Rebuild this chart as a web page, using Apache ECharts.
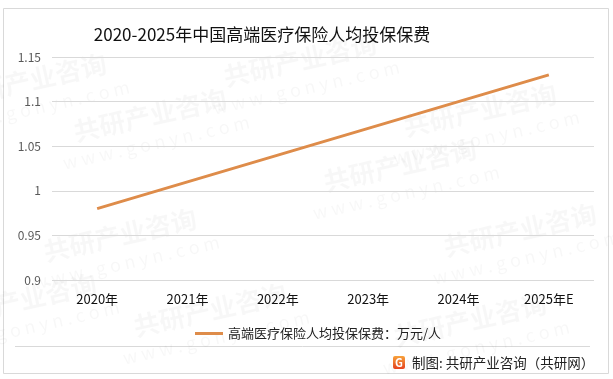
<!DOCTYPE html>
<html><head><meta charset="utf-8">
<script src="https://cdn.jsdelivr.net/npm/echarts@6/dist/echarts.min.js"></script>
<style>html,body{margin:0;padding:0;background:#fff}#c{width:613px;height:379px}</style>
</head><body><div id="c"></div>
<script>
var titleText = '2020-2025年中国高端医疗保险人均投保保费';
var categories = ['2020年','2021年','2022年','2023年','2024年','2025年E'];
var seriesName = '高端医疗保险人均投保保费：万元/人';
var values = [0.98, 1.01, 1.04, 1.07, 1.10, 1.13];
var yTicks = [0.9, 0.95, 1, 1.05, 1.1, 1.15];
var sourceText = '制图: 共研产业咨询（共研网）';

var font = '"Noto Sans CJK SC","Noto Sans",sans-serif';
var chart = echarts.init(document.getElementById('c'), null, {renderer:'canvas'});

var wm = [];
var wmPos = [[150,115],[480,110],[400,165],[120,235],[520,230],[210,310],[470,320],[30,80],[300,60],[20,300]];
wmPos.forEach(function(p){
  wm.push({type:'group', x:p[0], y:p[1], rotation:0.22, silent:true, z:-1, children:[
    {type:'text', style:{text:'共研产业咨询', x:0, y:0, align:'center', verticalAlign:'middle', font:'bold 26px '+font, fill:'rgba(0,0,0,0.03)'}},
    {type:'text', style:{text:'w w w . g o n y n . c o m', x:0, y:28, align:'center', verticalAlign:'middle', font:'18px '+font, fill:'rgba(0,0,0,0.03)'}}
  ]});
});

chart.setOption({
  backgroundColor:'#fff',
  animation:false,
  title:{text:titleText, left:257, textAlign:'center', top:21, textStyle:{fontFamily:font, fontSize:17, fontWeight:'normal', color:'#111'}},
  grid:{left:52, right:19, top:57, bottom:99},
  legend:{data:[{name:seriesName, icon:'rect'}], left:190, top:322, itemWidth:28, itemHeight:3, itemGap:10,
    textStyle:{fontFamily:font, fontSize:13, color:'#222'}},
  xAxis:{type:'category', data:categories, boundaryGap:true,
    axisLine:{show:false}, axisTick:{show:false},
    axisLabel:{fontFamily:font, fontSize:13, color:'#111', margin:13}},
  yAxis:{type:'value', min:0.9, max:1.15, interval:0.05,
    axisLine:{show:false}, axisTick:{show:false},
    splitLine:{lineStyle:{color:'#d9d9d9', width:1}},
    axisLabel:{fontFamily:font, fontSize:12, color:'#595959', margin:11,
      formatter:function(v){ var r = Math.round(v*100)/100; return String(r); }}},
  series:[{name:seriesName, type:'line', data:values, symbol:'none',
    lineStyle:{color:'#DE8C4A', width:3}, itemStyle:{color:'#DE8C4A'}}],
  graphic:[
    {type:'rect', shape:{x:3.5, y:8.5, width:605, height:365}, style:{fill:null, stroke:'#d9d9d9', lineWidth:1}, silent:true, z:-2},
    {type:'line', shape:{x1:15, y1:346.5, x2:590, y2:346.5}, style:{stroke:'#d9d9d9', lineWidth:1}, silent:true},
    {type:'group', x:393, y:356, children:[
      {type:'rect', shape:{x:0, y:0, width:12, height:13, r:2}, style:{fill:new echarts.graphic.LinearGradient(0,0,0,1,[{offset:0,color:'#F7A23B'},{offset:1,color:'#E8431F'}])}},
      {type:'text', style:{text:'G', x:6, y:7, align:'center', verticalAlign:'middle', font:'bold 11px '+font, fill:'#fff'}}
    ]},
    {type:'text', style:{text:sourceText, x:412, y:363, verticalAlign:'middle', font:'13.5px '+font, fill:'#222'}}
  ].concat(wm)
});
</script></body></html>
